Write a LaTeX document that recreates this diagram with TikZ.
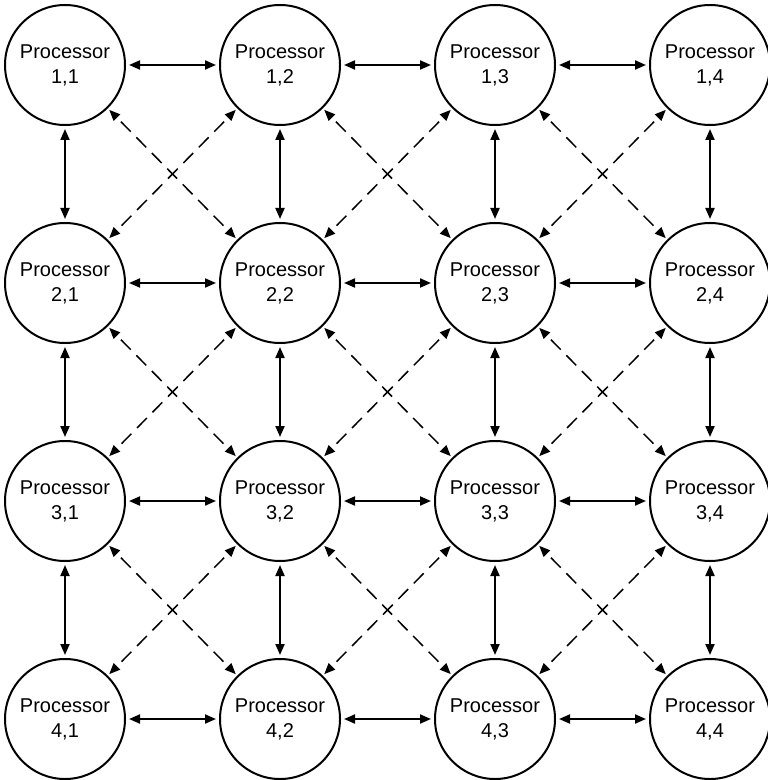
\documentclass[tikz,border=0pt]{standalone}
\usepackage{fontspec}
\setmainfont{Liberation Sans}
\usetikzlibrary{arrows.meta}
\tikzset{
  proc/.style = {draw, circle, line width=1pt, minimum size=60pt, inner sep=0pt,
                 align=center, font=\fontsize{10}{12.5}\selectfont},
  link/.style = {{Triangle[length=5.5pt,width=4.5pt]}-{Triangle[length=5.5pt,width=4.5pt]},
                 line width=1pt, shorten >=1.5pt, shorten <=1.5pt},
  % the diagonal links are dashed and a bit thinner
  diag/.style = {link, line width=0.75pt, dash pattern=on 7pt off 4pt,
                 dash phase=8pt, shorten >=1pt, shorten <=1pt},
}

\begin{document}
\begin{tikzpicture}[x=1pt, y=1pt]
  \useasboundingbox (0,0) rectangle (383.5,-390);

  %% ---------------- processors ----------------
  \foreach \i in {1,...,4} {
    \foreach \j in {1,...,4} {
      \node[proc] (p\i\j) at ({32.5+107.5*(\j-1)}, {-32.5-109*(\i-1)})
           {Processor\\\i,\j};
    }
  }

  %% ---------------- row and column links ----------------
  \foreach \i in {1,...,4} {
    \foreach \j/\k in {1/2, 2/3, 3/4} {
      \draw[link] (p\i\j) -- (p\i\k);
      \draw[link] (p\j\i) -- (p\k\i);
    }
  }

  %% ---------------- diagonal links ----------------
  \foreach \i/\ii in {1/2, 2/3, 3/4} {
    \foreach \j/\k in {1/2, 2/3, 3/4} {
      \draw[diag] (p\i\j) -- (p\ii\k);
      \draw[diag] (p\i\k) -- (p\ii\j);
    }
  }
\end{tikzpicture}
\end{document}
